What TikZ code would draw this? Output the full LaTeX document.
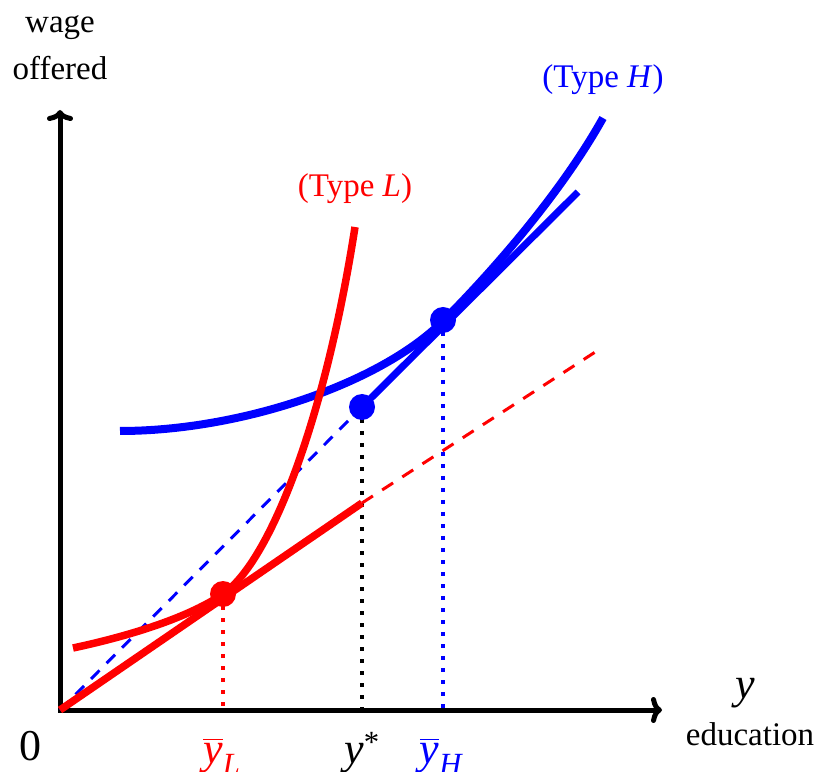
\documentclass[tikz,border=0pt]{standalone}
\usepackage{amsmath}
\usepackage{fontspec}
\setmainfont{Liberation Serif}
\usetikzlibrary{arrows.meta}

\newcommand{\itv}{\text{\itshape y}}

\begin{document}
\begin{tikzpicture}[x=1pt,y=1pt]
\tikzset{
  axisline/.style={draw=black,line width=5pt,line join=miter,{To[length=11pt,width=26pt]}-{To[length=11pt,width=26pt]}},
  lowcurve/.style={draw=red,line width=7.5pt},
  highcurve/.style={draw=blue,line width=8pt},
  lowguide/.style={draw=red,line width=3pt,dash pattern=on 13pt off 11pt},
  highguide/.style={draw=blue,line width=3pt,dash pattern=on 12pt off 10pt},
  dropline/.style={line width=3.5pt,dash pattern=on 4pt off 8pt},
  eqdot/.style={circle,inner sep=0pt,minimum size=26pt},
  plaintext/.style={font=\fontsize{33}{47}\selectfont,inner sep=0pt},
  mathtext/.style={font=\fontsize{44}{50}\selectfont,inner sep=0pt}
}
\useasboundingbox (-60,-61) rectangle (758,710);
\coordinate (O) at (0,0);
\coordinate (ytip) at (0,600);
\coordinate (xtip) at (602,0);
\coordinate (footL) at (163,0);
\coordinate (footS) at (302,0);
\coordinate (footH) at (383,0);
\coordinate (lowend) at (302,207);
\coordinate (lowfar) at (543,363);
\coordinate (highend) at (518,518);

% drop lines
\draw[dropline,red] (163,116) -- (footL);
\draw[dropline,black] (302,303) -- (footS);
\draw[dropline,blue] (383,390) -- (footH);

% axes
\draw[axisline] (ytip) -- (O) -- (xtip);

% straight lines
\draw[highguide] (O) -- (302,303);
\draw[lowcurve] (O) -- (lowend);
\draw[lowguide] (lowend) -- (lowfar);
\draw[highcurve,line width=7pt] (302,303) -- (highend);

% indifference curves
\draw[highcurve] (60,279) .. controls (180,279) and (320,326) .. (383,389)
  .. controls (430,436) and (500,515) .. (543,592);
\draw[lowcurve] (13,62) .. controls (60,72) and (125,90) .. (163,116)
  .. controls (210,148) and (265,290) .. (295,483);

% points
\node[eqdot,fill=red] (dL) at (163,116) {};
\node[eqdot,fill=blue] (dS) at (302,303) {};
\node[eqdot,fill=blue] (dH) at (383,390) {};

% labels
\node[plaintext,align=center] (ylab) at (0,662) {wage\\offered};
\node[mathtext,anchor=base] (xvar) at (685,12) {$\itv$};
\node[plaintext,anchor=base] (xlab) at (690,-35) {education};
\node[mathtext,anchor=base] (zero) at (-30,-50) {0};
\node[mathtext,anchor=base,red] (tL) at (162,-53) {$\overline{\itv}_{\text{\itshape L}}$};
\node[mathtext,anchor=base] (tS) at (302,-53) {$\itv^{\text{*}}$};
\node[mathtext,anchor=base,blue] (tH) at (381,-53) {$\overline{\itv}_{\text{\itshape H}}$};
\node[plaintext,anchor=base,red] (typeL) at (295,513) {(Type \textit{L})};
\node[plaintext,anchor=base,blue] (typeH) at (543,622) {(Type \textit{H})};
\end{tikzpicture}
\end{document}
